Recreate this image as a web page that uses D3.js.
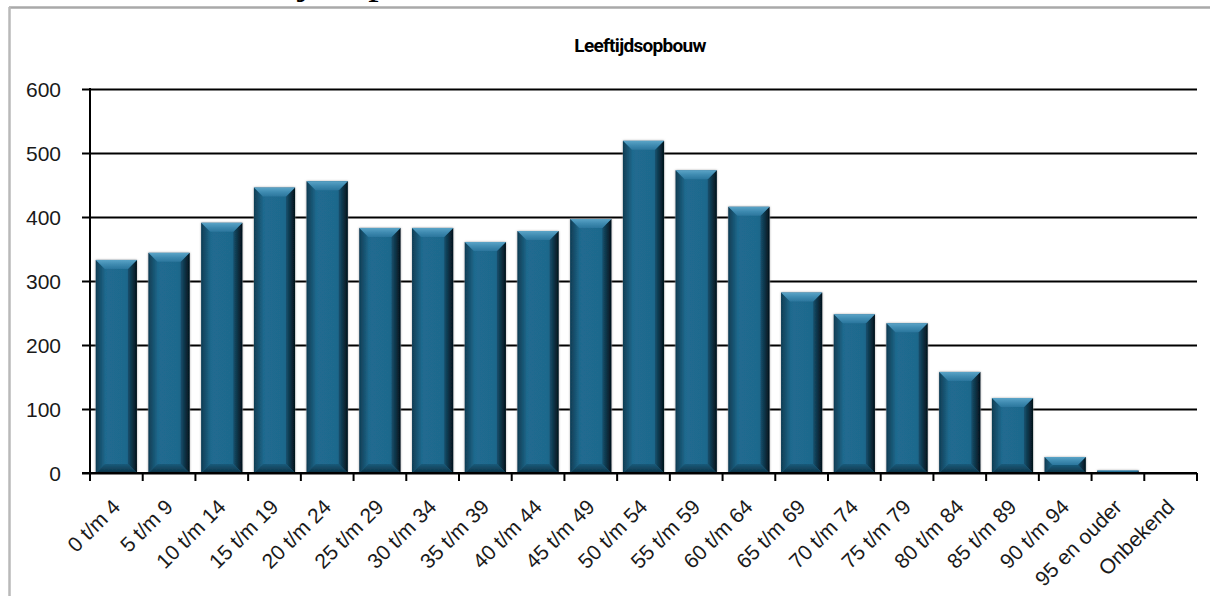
<!DOCTYPE html>
<html>
<head>
<meta charset="utf-8">
<script src="https://cdn.jsdelivr.net/npm/d3@7/dist/d3.min.js"></script>
<style>
  html, body { margin: 0; padding: 0; background: #fff; }
  svg { display: block; }
</style>
</head>
<body>
<div id="chart"></div>
<script>
// Leeftijdsopbouw: aantal inwoners per leeftijdsgroep
const categories = [
  "0 t/m 4", "5 t/m 9", "10 t/m 14", "15 t/m 19", "20 t/m 24", "25 t/m 29",
  "30 t/m 34", "35 t/m 39", "40 t/m 44", "45 t/m 49", "50 t/m 54", "55 t/m 59",
  "60 t/m 64", "65 t/m 69", "70 t/m 74", "75 t/m 79", "80 t/m 84", "85 t/m 89",
  "90 t/m 94", "95 en ouder", "Onbekend"
];
const values = [
  333, 344, 391, 446, 456, 383, 383, 361, 378, 397, 519, 473,
  416, 282, 248, 234, 158, 117, 25, 4, 0
];
const yTicks = [0, 100, 200, 300, 400, 500, 600];
const chartTitle = "Leeftijdsopbouw";

const W = 1210, H = 596;
const margin = { left: 90, right: 13, top: 89, bottom: 123 };

const svg = d3.select("#chart").append("svg")
  .attr("width", W).attr("height", H);

const defs = svg.append("defs");

function linGrad(id, x2, y2, stops) {
  const g = defs.append("linearGradient").attr("id", id)
    .attr("x1", 0).attr("y1", 0).attr("x2", x2).attr("y2", y2);
  stops.forEach(([o, c]) => g.append("stop").attr("offset", o).attr("stop-color", c));
}
linGrad("face", 1, 0, [[0, "#1c6285"], [0.3, "#206b90"], [0.7, "#1f698d"], [1, "#1a5b7c"]]);
linGrad("bevTop", 0, 1, [[0, "#5ba4c7"], [0.5, "#3f8bb1"], [1, "#2b769d"]]);
linGrad("bevLeft", 1, 0, [[0, "#0f3d54"], [1, "#1e6689"]]);
linGrad("bevRight", 1, 0, [[0, "#16506d"], [1, "#03121a"]]);
linGrad("bevBottom", 0, 1, [[0, "#1a5b7b"], [1, "#0c3245"]]);

const shadow = defs.append("filter").attr("id", "barShadow")
  .attr("x", "-10%").attr("y", "-10%").attr("width", "120%").attr("height", "120%");
shadow.append("feDropShadow").attr("dx", 0).attr("dy", 0)
  .attr("stdDeviation", 1.2).attr("flood-color", "#8a8a8a").attr("flood-opacity", 0.7);

// Page frame and the page heading running off its top edge
svg.append("text")
  .attr("x", 198).attr("y", -7)
  .attr("font-family", "'Liberation Serif', 'Times New Roman', serif")
  .attr("font-size", 42).attr("fill", "#000")
  .text(chartTitle);
svg.append("line").attr("x1", 9).attr("x2", W).attr("y1", 7.5).attr("y2", 7.5)
  .attr("stroke", "#a9a9a9").attr("stroke-width", 2.5);
svg.append("line").attr("x1", 9.5).attr("x2", 9.5).attr("y1", 7).attr("y2", H)
  .attr("stroke", "#b9b9b9").attr("stroke-width", 2.5);

// Scales
const x = d3.scaleBand()
  .domain(categories)
  .range([margin.left, W - margin.right])
  .paddingInner(0.22)
  .paddingOuter(0.11);

const y = d3.scaleLinear()
  .domain([0, 600])
  .range([H - margin.bottom, margin.top]);

const x0 = margin.left, x1 = W - margin.right;

// Title
svg.append("text")
  .attr("x", 640).attr("y", 52)
  .attr("text-anchor", "middle")
  .attr("font-family", "Roboto, 'Liberation Sans', Arial, sans-serif")
  .attr("font-weight", "bold")
  .attr("font-size", 19)
  .attr("letter-spacing", -0.7)
  .attr("fill", "#000")
  .text(chartTitle);

// Gridlines with left ticks, and y labels
const yAxis = d3.axisLeft(y).tickValues(yTicks).tickSize(x1 - x0 + 8).tickFormat(d3.format("d"));
const gy = svg.append("g")
  .attr("transform", `translate(${x1},0)`)
  .call(yAxis);
gy.select(".domain").remove();
gy.selectAll(".tick line").attr("stroke", "#000").attr("stroke-width", 2);
gy.selectAll(".tick text")
  .attr("x", -(x1 - 61))
  .attr("dy", "0.35em")
  .attr("font-family", "'Liberation Sans', Arial, Helvetica, sans-serif")
  .attr("font-size", 21)
  .attr("fill", "#1a1a1a");

// Vertical axis line
svg.append("line")
  .attr("x1", x0).attr("x2", x0)
  .attr("y1", y(600) - 1).attr("y2", y(0) + 8)
  .attr("stroke", "#000").attr("stroke-width", 2);

// Bars with bevelled edges
const bars = svg.append("g").attr("filter", "url(#barShadow)");
categories.forEach((c, i) => {
  const v = values[i];
  if (v <= 0) return;
  const bx = x(c), bw = x.bandwidth();
  const top = y(v), bot = y(0);
  const h = bot - top;
  const b = Math.min(9, h / 2, bw / 2);
  const g = bars.append("g");
  const pts = a => a.map(p => p.join(",")).join(" ");
  g.append("rect").attr("x", bx).attr("y", top).attr("width", bw).attr("height", h)
    .attr("fill", "url(#face)");
  g.append("polygon").attr("fill", "url(#bevLeft)")
    .attr("points", pts([[bx, top], [bx + b, top + b], [bx + b, bot - b], [bx, bot]]));
  g.append("polygon").attr("fill", "url(#bevRight)")
    .attr("points", pts([[bx + bw, top], [bx + bw - b, top + b], [bx + bw - b, bot - b], [bx + bw, bot]]));
  g.append("polygon").attr("fill", "url(#bevTop)")
    .attr("points", pts([[bx, top], [bx + bw, top], [bx + bw - b, top + b], [bx + b, top + b]]));
  g.append("polygon").attr("fill", "url(#bevBottom)")
    .attr("points", pts([[bx, bot], [bx + bw, bot], [bx + bw - b, bot - b], [bx + b, bot - b]]));
});

// Category axis along zero with boundary ticks
svg.append("line")
  .attr("x1", x0 - 8).attr("x2", x1)
  .attr("y1", y(0)).attr("y2", y(0))
  .attr("stroke", "#000").attr("stroke-width", 2);
const step = x.step();
const boundaries = d3.range(categories.length + 1).map(i => x0 + i * step);
svg.append("g").selectAll("line").data(boundaries).join("line")
  .attr("x1", d => d).attr("x2", d => d)
  .attr("y1", y(0)).attr("y2", y(0) + 8)
  .attr("stroke", "#000").attr("stroke-width", 2);

svg.append("g").selectAll("text").data(categories).join("text")
  .attr("transform", d => `translate(${x(d) + x.bandwidth() / 2},${y(0) + 30}) rotate(-45)`)
  .attr("text-anchor", "end")
  .attr("dy", "0.35em")
  .attr("font-family", "'Liberation Sans', Arial, Helvetica, sans-serif")
  .attr("font-size", 21)
  .attr("fill", "#1a1a1a")
  .text(d => d);
</script>
</body>
</html>
